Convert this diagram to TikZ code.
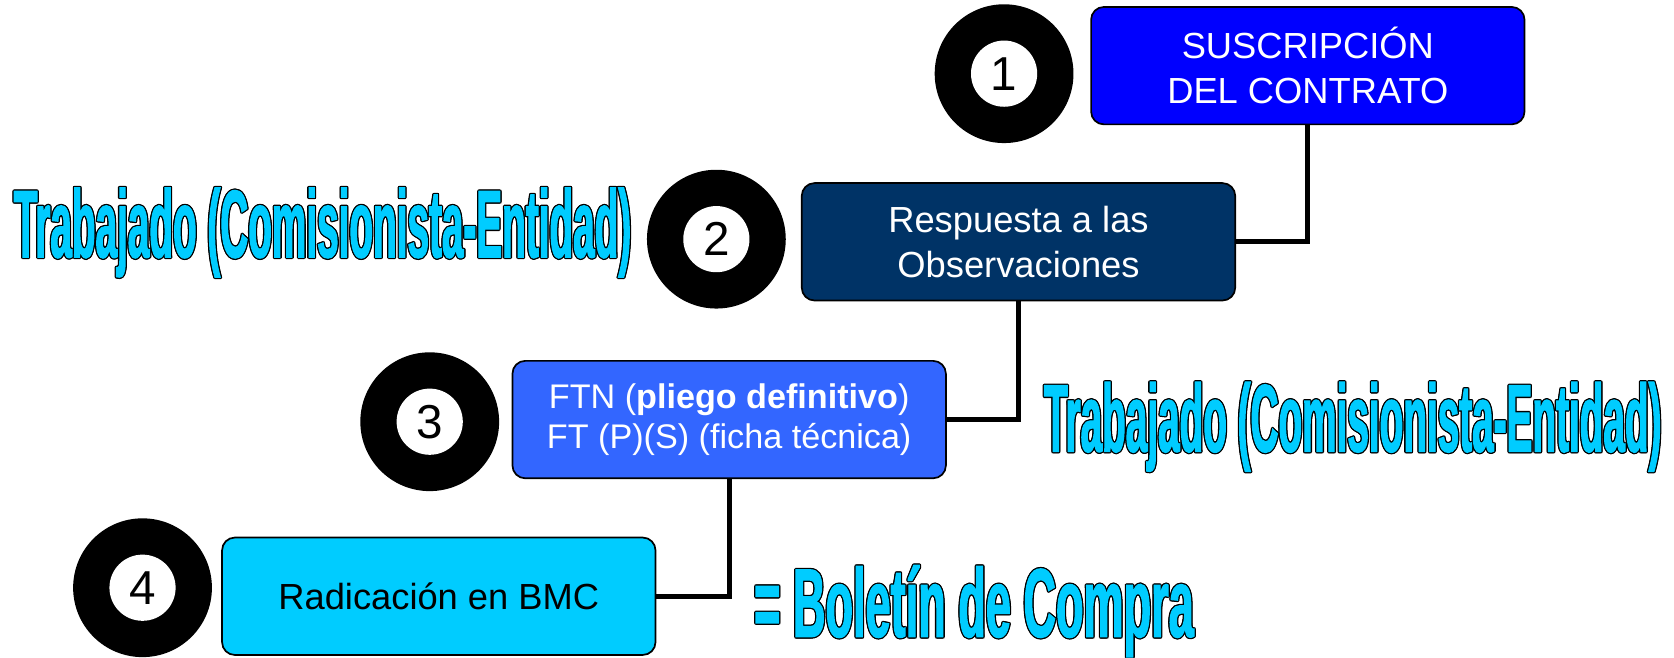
\documentclass[tikz,border=0pt]{standalone}
\usepackage{fontspec}
\setmainfont{Liberation Sans}
\newfontfamily\waFontA{Liberation Sans Bold}[FakeStretch=0.403,FakeBold=1.1]
\newfontfamily\waFontB{Liberation Sans Bold}[FakeStretch=0.462,FakeBold=1.1]
\definecolor{boxA}{HTML}{0000FF}
\definecolor{boxB}{HTML}{003366}
\definecolor{boxC}{HTML}{3366FF}
\definecolor{boxD}{HTML}{00CCFF}
\definecolor{wacyan}{HTML}{00CCFF}
\newsavebox\waBoxK
\newsavebox\waBoxC
\newcommand\waCopy[2]{\rlap{\kern#1\raise#2\hbox{\usebox\waBoxK}}}
% #1 font switch, #2 text
\newcommand\wordart[2]{%
  \sbox\waBoxK{\color{black}#1#2}%
  \sbox\waBoxC{\color{wacyan}#1#2}%
  \leavevmode
  \waCopy{0.6pt}{0pt}\waCopy{-0.6pt}{0pt}\waCopy{0pt}{0.6pt}\waCopy{0pt}{-0.6pt}%
  \waCopy{0.42pt}{0.42pt}\waCopy{0.42pt}{-0.42pt}\waCopy{-0.42pt}{0.42pt}\waCopy{-0.42pt}{-0.42pt}%
  \usebox\waBoxC}
\begin{document}
\begin{tikzpicture}[x=0.5pt,y=-0.5pt,
  stepbox/.style={draw=black, line width=0.8pt, rounded corners=6pt,
    minimum width=203pt, minimum height=55pt, inner sep=0pt, align=center,
    font=\fontsize{17pt}{21pt}\selectfont},
  ringout/.style={circle, fill=black, minimum size=65pt, inner sep=0pt},
  ringin/.style={circle, fill=white, minimum size=31pt, inner sep=0pt,
    font=\fontsize{22.3pt}{26pt}\selectfont},
  conn/.style={draw=black, line width=2.3pt},
  wa/.style={inner sep=0pt, anchor=base west}]
\useasboundingbox (0,0) rectangle (1568,615.4);

% boxes
\node[stepbox, fill=boxA, text=white] (b1) at (1225,61.5) {SUSCRIPCIÓN\\DEL CONTRATO};
\node[stepbox, fill=boxB, text=white] (b2) at (954,226.5) {Respuesta a las\\Observaciones};
\node[stepbox, fill=boxC, text=white, font=\fontsize{16pt}{18.75pt}\selectfont] (b3) at (683,393)
  {FTN (\textbf{pliego definitivo})\\FT (P)(S) (ficha técnica)};
\node[stepbox, fill=boxD, text=black] (b4) at (411,558.5) {Radicación en BMC};

% connectors
\draw[conn] (b1.south) |- (b2.east);
\draw[conn] (b2.south) |- (b3.east);
\draw[conn] (b3.south) |- (b4.east);

% numbered rings
\node[ringout] (r1) at (940.5,69) {};
\node[ringin] (n1) at (r1) {1};
\node[ringout] (r2) at (671,224) {};
\node[ringin] (n2) at (r2) {2};
\node[ringout] (r3) at (402.5,395) {};
\node[ringin] (n3) at (r3) {3};
\node[ringout] (r4) at (133.5,550.5) {};
\node[ringin] (n4) at (r4) {4};

% word-art labels
\node[wa] (w1) at (12.5,241) {\wordart{\fontsize{45pt}{50pt}\waFontA}{Trabajado (Comisionista-Entidad)}};
\node[wa] (w2) at (977.5,423) {\wordart{\fontsize{45pt}{50pt}\waFontA}{Trabajado (Comisionista-Entidad)}};
\node[wa] (w3) at (706,596.5) {\wordart{\fontsize{45.7pt}{50pt}\waFontB}{= Boletín de Compra}};
\end{tikzpicture}
\end{document}
